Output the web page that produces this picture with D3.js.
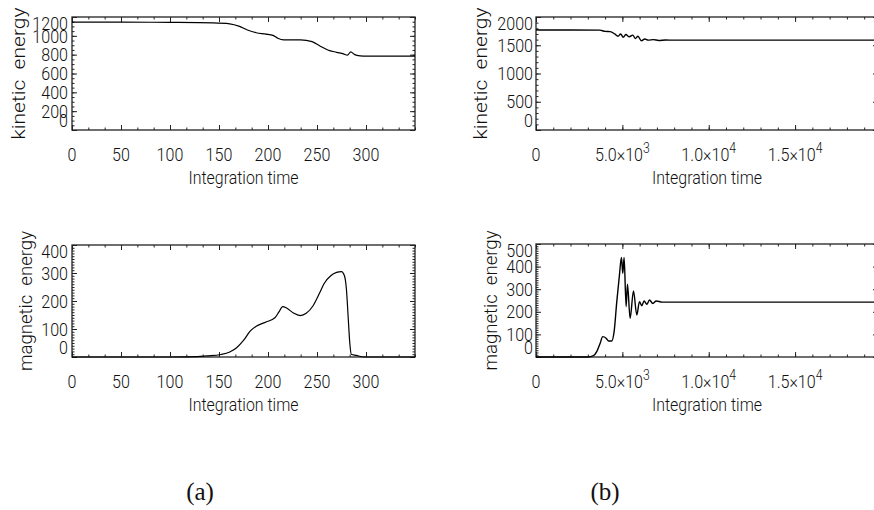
<!DOCTYPE html>
<html>
<head>
<meta charset="utf-8">
<script src="https://cdn.jsdelivr.net/npm/d3@7"></script>
<style>
  html, body { margin: 0; padding: 0; background: #fff; }
  svg { display: block; }
  text { font-family: Roboto, "Liberation Sans", Arial, sans-serif; font-weight: 300; fill: #111; }
</style>
</head>
<body>
<svg id="chart" width="874" height="510"></svg>
<script>
// ---------------- data ----------------
// (a) short run
const kinTimeA = [0, 50, 100, 144, 161, 171, 179, 188, 198, 205, 210, 216, 233, 245, 253, 261, 270, 277, 281, 284.5, 288, 294, 301, 350];
const kinA     = [1145, 1145, 1143, 1138, 1128, 1100, 1062, 1033, 1019, 1005, 975, 958, 957, 938, 892, 850, 825, 808, 795, 830, 803, 788, 785, 785];

const magTimeA = [0, 100, 117, 138, 152, 161, 168, 175, 182, 188, 198, 207, 211, 215, 219, 226, 233, 239, 246, 253, 257, 264, 270, 275, 278, 280, 282, 283.5, 285, 290, 298, 350];
const magA     = [0, 0, 0.5, 4, 9, 18, 33, 59, 93, 110, 125, 140, 160, 180, 175, 157, 148, 156, 183, 231, 261, 290, 302, 305, 290, 243, 131, 48, 10, 6, 0, 0];

// (b) long run
const kinTimeB = [0, 300, 3700, 4000, 4300, 4560, 4750, 4900, 5050, 5200, 5400, 5600, 5750, 5900, 6100, 6300, 6500, 6800, 7100, 7500, 8000, 19800];
const kinB     = [1775, 1770, 1768, 1745, 1742, 1700, 1660, 1700, 1640, 1690, 1650, 1680, 1620, 1660, 1580, 1610, 1590, 1600, 1585, 1592, 1590, 1590];

const magTimeB = [0, 3000, 3324, 3517, 3710, 3865, 4058, 4193, 4387, 4522, 4677, 4831, 4947, 5024, 5101, 5217, 5295, 5449, 5643, 5836, 5990, 6125, 6261, 6416, 6570, 6763, 6957, 7300, 19800];
const magB     = [0, 0, 6, 24, 60, 90, 83, 71, 71, 112, 245, 363, 440, 370, 440, 223, 322, 171, 292, 186, 245, 227, 248, 233, 252, 237, 248, 243, 243];

// ---------------- ticks / labels ----------------
const xTicksA = [0, 50, 100, 150, 200, 250, 300];
const xLabelsA = ["0", "50", "100", "150", "200", "250", "300"];
const yTicksKinA = [0, 200, 400, 600, 800, 1000, 1200];
const yTicksMagA = [0, 100, 200, 300, 400];
const xTicksB = [0, 5000, 10000, 15000];
const xLabelsB = [["0", ""], ["5.0×10", "3"], ["1.0×10", "4"], ["1.5×10", "4"]];
const yTicksKinB = [0, 500, 1000, 1500, 2000];
const yTicksMagB = [0, 100, 200, 300, 400, 500];

const xTitle = "Integration time";
const yTitleKin = "kinetic  energy";
const yTitleMag = "magnetic  energy";
const panelLabels = ["(a)", "(b)"];

// ---------------- layout ----------------
const svg = d3.select("#chart");

const panels = [
  { L: 72,  R: 415, T: 17,  B: 130, xd: [0, 350],   yd: [0, 1200], tx: kinTimeA, ty: kinA,
    xt: xTicksA, xl: xLabelsA.map(s => [s, ""]), xminor: 50 / 3, yt: yTicksKinA, yminor: 50,
    ytitle: yTitleKin, titleX: 25, titleLen: 132, ylabX: 68, lw: 1.2 },
  { L: 72,  R: 415, T: 245, B: 357, xd: [0, 350],   yd: [0, 400],  tx: magTimeA, ty: magA,
    xt: xTicksA, xl: xLabelsA.map(s => [s, ""]), xminor: 50 / 3, yt: yTicksMagA, yminor: 10,
    ytitle: yTitleMag, titleX: 32, titleLen: 140, ylabX: 68, lw: 1.2 },
  { L: 536, R: 878, T: 17,  B: 130, xd: [0, 19800], yd: [0, 2000], tx: kinTimeB, ty: kinB,
    xt: xTicksB, xl: xLabelsB, xminor: 1000, yt: yTicksKinB, yminor: 100,
    ytitle: yTitleKin, titleX: 487, titleLen: 132, ylabX: 533, lw: 1.4 },
  { L: 536, R: 878, T: 244, B: 357, xd: [0, 19800], yd: [0, 500],  tx: magTimeB, ty: magB,
    xt: xTicksB, xl: xLabelsB, xminor: 1000, yt: yTicksMagB, yminor: 10,
    ytitle: yTitleMag, titleX: 497, titleLen: 140, ylabX: 533, lw: 1.4 }
];

const SX = 0.87; // horizontal compression of tick labels

panels.forEach(p => {
  const x = d3.scaleLinear().domain(p.xd).range([p.L, p.R]);
  const y = d3.scaleLinear().domain(p.yd).range([p.B, p.T]);
  const g = svg.append("g");

  const xMinor = d3.range(p.xd[0], p.xd[1] + 1e-6, p.xminor);
  const yMinor = d3.range(p.yd[0], p.yd[1] + 1e-6, p.yminor);

  const addAxis = (axisFn, scale, vals, size, transform) => {
    const a = g.append("g").attr("transform", transform)
      .call(axisFn(scale).tickValues(vals).tickSize(-size).tickFormat(""));
    a.select(".domain").remove();
    a.selectAll("line").attr("stroke", "#222").attr("stroke-width", 1);
  };
  // minor ticks
  addAxis(d3.axisBottom, x, xMinor, 2.5, `translate(0,${p.B})`);
  addAxis(d3.axisTop, x, xMinor, 2.5, `translate(0,${p.T})`);
  addAxis(d3.axisLeft, y, yMinor, 2.5, `translate(${p.L},0)`);
  addAxis(d3.axisRight, y, yMinor, 2.5, `translate(${p.R},0)`);
  // major ticks
  addAxis(d3.axisBottom, x, p.xt, 5, `translate(0,${p.B})`);
  addAxis(d3.axisTop, x, p.xt, 5, `translate(0,${p.T})`);
  addAxis(d3.axisLeft, y, p.yt, 5, `translate(${p.L},0)`);
  addAxis(d3.axisRight, y, p.yt, 5, `translate(${p.R},0)`);

  // frame
  g.append("rect").attr("x", p.L).attr("y", p.T)
    .attr("width", p.R - p.L).attr("height", p.B - p.T)
    .attr("fill", "none").attr("stroke", "#222").attr("stroke-width", 1.3);

  // data line
  const line = d3.line().x(d => x(d[0])).y(d => y(d[1])).curve(d3.curveMonotoneX);
  g.append("path").datum(p.tx.map((t, i) => [t, p.ty[i]]))
    .attr("d", line).attr("fill", "none").attr("stroke", "#000")
    .attr("stroke-width", p.lw).attr("stroke-linejoin", "round");

  // x tick labels
  p.xt.forEach((v, i) => {
    const [main, sup] = p.xl[i];
    const t = g.append("text")
      .attr("transform", `translate(${x(v)},${p.B + 31}) scale(${SX},1)`)
      .attr("text-anchor", "middle").attr("font-size", 18.5);
    t.append("tspan").text(main);
    if (sup) t.append("tspan").attr("dy", -8).attr("font-size", 14).text(sup);
  });

  // y tick labels (end labels kept inside the frame, as in the original)
  p.yt.forEach(v => {
    const ly = Math.min(Math.max(y(v), p.T + 6), p.B - 9.5);
    g.append("text")
      .attr("transform", `translate(${p.ylabX},${ly}) scale(${SX},1)`)
      .attr("text-anchor", "end").attr("dy", "0.36em").attr("font-size", 18.5)
      .text(v);
  });

  // x title
  g.append("text")
    .attr("x", (p.L + p.R) / 2).attr("y", p.B + 54)
    .attr("text-anchor", "middle").attr("font-size", 18.5)
    .attr("textLength", 110).attr("lengthAdjust", "spacingAndGlyphs")
    .text(xTitle);

  // y title
  g.append("text")
    .attr("transform", `translate(${p.titleX},${(p.T + p.B) / 2}) rotate(-90)`)
    .attr("text-anchor", "middle").attr("font-size", 18.5)
    .attr("textLength", p.titleLen).attr("lengthAdjust", "spacingAndGlyphs")
    .style("white-space", "pre")
    .text(p.ytitle);
});

// panel labels
const labelX = d3.scalePoint().domain(panelLabels).range([200, 605]);
panelLabels.forEach(l => {
  svg.append("text")
    .attr("x", labelX(l)).attr("y", 500)
    .attr("text-anchor", "middle")
    .attr("font-size", 25)
    .style("font-family", "'Liberation Serif', 'Times New Roman', serif")
    .style("font-weight", 400)
    .text(l);
});
</script>
</body>
</html>
